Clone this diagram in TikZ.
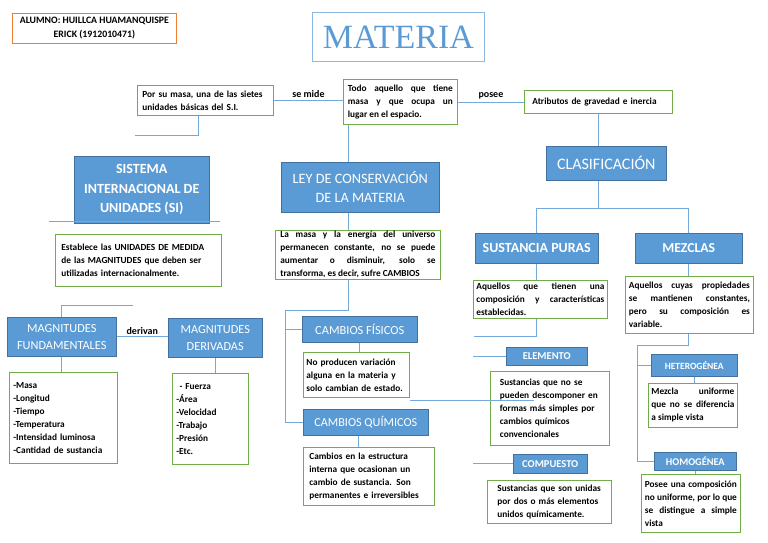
\documentclass[tikz,border=0pt]{standalone}
\usepackage{fontspec}
\setmainfont{Carlito}
\newfontfamily\serifa{Liberation Serif}
\definecolor{azul}{RGB}{91,155,213}
\definecolor{azulosc}{RGB}{65,113,156}
\definecolor{verde}{RGB}{112,173,71}
\definecolor{naranja}{RGB}{237,125,49}
\tikzset{
caja/.style={draw=verde,line width=0.8pt,fill=white,anchor=north west,inner xsep=3pt,inner ysep=1pt,align=left,font=\bfseries\fontsize{9.3}{13}\selectfont},
titulo/.style={draw=azulosc,line width=0.5pt,fill=azul,text=white,anchor=north west,inner sep=1pt,align=center},
linea/.style={draw=azul!85,line width=0.8pt},
etiqueta/.style={above,inner sep=2pt,font=\bfseries\fontsize{10}{12}\selectfont}
}
\begin{document}
\begin{tikzpicture}[x=1pt,y=-1pt]
\useasboundingbox (0,0) rectangle (768,543);
%encabezado
\node[draw=naranja,line width=0.8pt,anchor=north west,minimum width=164pt,minimum height=30pt,align=center,font=\bfseries\fontsize{9.8}{14}\selectfont] (alumno) at (12,13) {ALUMNO: HUILLCA HUAMANQUISPE\\ERICK (1912010471)};
\node[draw=azul!70,line width=0.8pt,anchor=north west,minimum width=172pt,minimum height=49pt,text=azul,font=\serifa\fontsize{34}{34}\selectfont] (materia) at (312,12) {MATERIA};
%fila superior
\node[caja,minimum width=136pt,minimum height=30pt,text width=126pt] (porsu) at (137,85) {Por su masa, una de las sietes\\unidades básicas del S.I.};
\node[caja,align=justify,minimum width=114pt,minimum height=45pt,text width=105pt] (todo) at (343,79) {Todo aquello que tiene\linebreak masa y que ocupa un\linebreak lugar en el espacio.};
\node[caja,minimum width=148pt,minimum height=23pt,text width=132pt] (atrib) at (524,90) {Atributos de gravedad e inercia};
%derecha
\node[titulo,minimum width=120pt,minimum height=34pt,font=\fontsize{16}{18}\selectfont] (clasif) at (546,146) {CLASIFICACIÓN};
\node[titulo,minimum width=123pt,minimum height=30pt,font=\bfseries\fontsize{14}{16}\selectfont] (sustan) at (475,233) {SUSTANCIA PURAS};
\node[titulo,minimum width=107pt,minimum height=30pt,font=\bfseries\fontsize{13.7}{15}\selectfont] (mezclas) at (635,233) {MEZCLAS};
\node[caja,align=justify,minimum width=134pt,minimum height=38pt,text width=128pt] (sustdesc) at (473,280) {Aquellos que tienen una\linebreak composición y características\linebreak establecidas.};
\node[caja,align=justify,minimum width=128pt,minimum height=57pt,text width=121pt] (mezdesc) at (625,276) {Aquellos cuyas propiedades\linebreak se mantienen constantes,\linebreak pero su composición es\linebreak variable.};
\node[titulo,minimum width=81pt,minimum height=18pt,font=\bfseries\fontsize{10.5}{12}\selectfont] (elemento) at (506,347) {ELEMENTO};
\node[caja,minimum width=119pt,minimum height=74pt,text width=100pt] (elemdesc) at (490,371) {Sustancias que no se\\pueden descomponer en\\formas más simples por\\cambios químicos\\convencionales};
\node[titulo,minimum width=74pt,minimum height=19pt,font=\bfseries\fontsize{10.5}{12}\selectfont] (compuesto) at (513,454) {COMPUESTO};
\node[caja,minimum width=124pt,minimum height=43pt,text width=104pt] (compdesc) at (487,480) {Sustancias que son unidas\\por dos o más elementos\\unidos químicamente.};
\node[titulo,minimum width=86pt,minimum height=22pt,font=\bfseries\fontsize{9.5}{11}\selectfont] (hetero) at (651,354) {HETEROGÉNEA};
\node[caja,align=justify,minimum width=89pt,minimum height=44pt,text width=83pt] (hetdesc) at (648,383) {Mezcla uniforme\linebreak que no se diferencia\linebreak a simple vista};
\node[titulo,minimum width=82pt,minimum height=18pt,font=\bfseries\fontsize{10.3}{12}\selectfont] (homo) at (654,452) {HOMOGÉNEA};
\node[caja,align=justify,minimum width=99pt,minimum height=58pt,text width=92pt] (homdesc) at (641,474) {Posee una composición\linebreak no uniforme, por lo que\linebreak se distingue a simple\linebreak vista};
%centro
\node[titulo,minimum width=158pt,minimum height=50pt,font=\fontsize{14.3}{19}\selectfont] (ley) at (281,162) {LEY DE CONSERVACIÓN\\DE LA MATERIA};
\node[caja,align=justify,minimum width=165pt,minimum height=48pt,text width=155pt] (lamasa) at (275,230) {La masa y la energía del universo\linebreak permanecen constante, no se puede\linebreak aumentar o disminuir, solo se\linebreak transforma, es decir, sufre CAMBIOS};
\node[titulo,minimum width=115pt,minimum height=26pt,font=\fontsize{12.4}{14}\selectfont] (fisicos) at (302,316) {CAMBIOS FÍSICOS};
\node[caja,minimum width=106pt,minimum height=45pt,text width=100pt] (fisdesc) at (303,352) {No producen variación\\alguna en la materia y\\solo cambian de estado.};
\node[titulo,minimum width=125pt,minimum height=26pt,font=\fontsize{12.2}{14}\selectfont] (quimicos) at (303,409) {CAMBIOS QUÍMICOS};
\node[caja,minimum width=131pt,minimum height=58pt,text width=119pt] (quimdesc) at (303,447) {Cambios en la estructura\\interna que ocasionan un\\cambio de sustancia. Son\\permanentes e irreversibles};
%izquierda
\node[titulo,minimum width=135pt,minimum height=67pt,font=\bfseries\fontsize{14}{19.5}\selectfont] (sistema) at (74,156) {SISTEMA\\INTERNACIONAL DE\\UNIDADES (SI)};
\node[caja,minimum width=166pt,minimum height=52pt,text width=154pt] (establece) at (55,234) {Establece las UNIDADES DE MEDIDA\\de las MAGNITUDES que deben ser\\utilizadas internacionalmente.};
\node[titulo,minimum width=109pt,minimum height=39pt,font=\fontsize{12.3}{17}\selectfont] (fund) at (7,317) {MAGNITUDES\\FUNDAMENTALES};
\node[titulo,minimum width=94pt,minimum height=39pt,font=\fontsize{12.3}{17}\selectfont] (deriv) at (168,318) {MAGNITUDES\\DERIVADAS};
\node[caja,minimum width=108pt,minimum height=91pt,text width=100pt] (fundlist) at (9,372) {-Masa\\-Longitud\\-Tiempo\\-Temperatura\\-Intensidad luminosa\\-Cantidad de sustancia};
\node[caja,minimum width=76pt,minimum height=91pt,text width=68pt] (derivlist) at (172,373) {\ - Fuerza\\-Área\\-Velocidad\\-Trabajo\\-Presión\\-Etc.};
%conectores
\coordinate (ejeLey) at (348,0);
\coordinate (ejeC) at (285,0);
\coordinate (ejeM) at (637,0);
\coordinate (ramaI) at (133,305);
\draw[linea] (porsu.east) -- (porsu.east -| todo.west) node[etiqueta,midway]{se mide};
\draw[linea] (todo.east) -- (todo.east -| atrib.west) node[etiqueta,midway]{posee};
\draw[linea] (atrib.south) -- (atrib.south |- clasif.north);
\draw[linea] (atrib.south |- clasif.south) -- ++(0,28);
\draw[linea] (sustan.north) -- ++(0,-25) -| (mezclas.north);
\draw[linea] (sustan.south) -- (sustan.south |- sustdesc.north);
\draw[linea] (sustan.south |- sustdesc.south) -- ++(0,18) -- ++(-63,0);
\draw[linea] (elemento.west) -- ++(-33,0);
\draw[linea] (compuesto.west) -- ++(-40,0);
\draw[linea] (mezclas.south) -- (mezclas.south |- mezdesc.north);
\draw[linea] (mezclas.south |- mezdesc.south) -- ++(0,12) -| (ejeM |- homo.west) -- (homo.west);
\draw[linea] (ejeM |- hetero.west) -- (hetero.west);
\draw[linea] (hetero.south) -- (hetero.south |- hetdesc.north);
\draw[linea] (homo.south) -- (homo.south |- homdesc.north);
\draw[linea] (ejeLey |- todo.south) -- (ejeLey |- ley.north);
\draw[linea] (ejeLey |- ley.south) -- (ejeLey |- lamasa.north);
\draw[linea] (ejeLey |- lamasa.south) -- ++(0,31) -| (ejeC |- quimicos.west) -- (quimicos.west);
\draw[linea] (ejeC |- fisicos.west) -- (fisicos.west);
\draw[linea] (fisicos.south) -- (fisicos.south |- fisdesc.north);
\draw[linea] ([xshift=-7pt]quimicos.south) -- ([xshift=-7pt]quimicos.south |- quimdesc.north);
\draw[linea] ([yshift=-3pt]fisdesc.south east) -- ++(124,0);
\draw[linea] ([xshift=-7pt]porsu.south) -- ++(0,20) -- ++(-63,0);
\draw[linea] ([xshift=-25pt,yshift=2pt]sistema.south west) -- ([xshift=10pt,yshift=2pt]sistema.south east);
\draw[linea] (ramaI) -| (fund.north);
\draw[linea] (fund.east) -- (fund.east -| deriv.west) node[etiqueta,midway]{derivan};
\draw[linea] (fund.south) -- (fund.south |- fundlist.north);
\draw[linea] (deriv.south) -- (deriv.south |- derivlist.north);
\end{tikzpicture}
\end{document}
